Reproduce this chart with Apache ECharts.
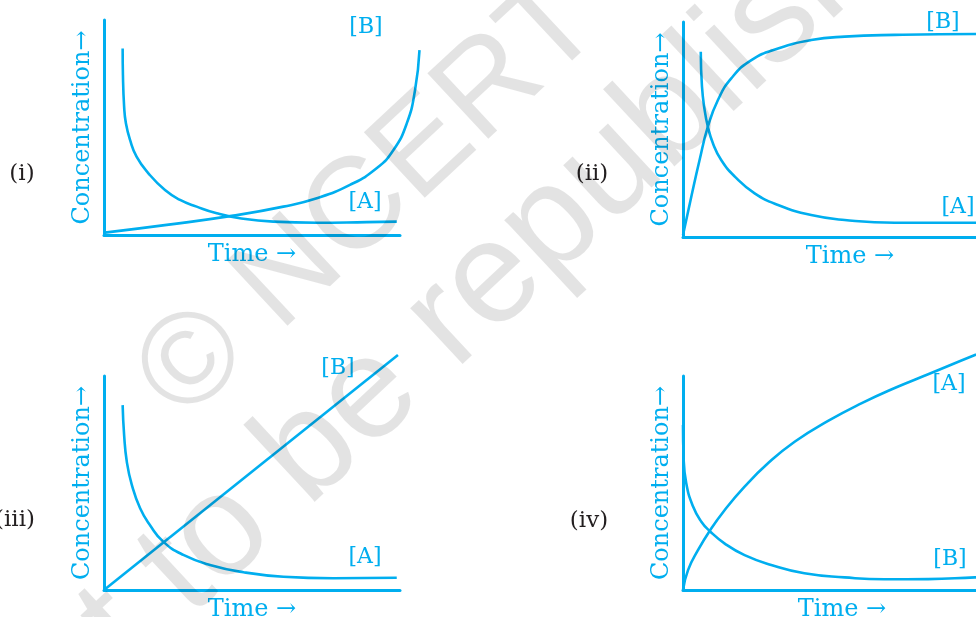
<!DOCTYPE html>
<html>
<head>
<meta charset="utf-8">
<script src="https://cdn.jsdelivr.net/npm/echarts@6/dist/echarts.min.js"></script>
<style>
  html, body { margin: 0; padding: 0; background: #fff; }
  #chart { width: 976px; height: 617px; }
</style>
</head>
<body>
<div id="chart"></div>
<script>
// [x, y] points, time 0..10, concentration 0..10
const p1A = [[0.63, 8.68], [0.64, 7.44], [0.68, 5.97], [0.74, 5.20], [0.88, 4.42], [1.10, 3.64],
  [1.50, 2.87], [2.06, 2.09], [2.57, 1.63], [3.13, 1.32], [3.81, 1.01], [4.59, 0.78],
  [5.72, 0.62], [7.19, 0.57], [8.88, 0.60], [9.89, 0.62]];
const p1B = [[0.03, 0.11], [2.12, 0.47], [4.37, 0.90], [6.06, 1.32], [7.19, 1.71], [8.31, 2.33],
  [9.21, 3.10], [9.78, 3.95], [10.23, 5.19], [10.51, 6.74], [10.66, 8.60]];

const p2A = [[0.60, 8.62], [0.64, 7.01], [0.73, 5.91], [0.84, 5.13], [1.01, 4.36], [1.29, 3.58],
  [1.75, 2.81], [2.42, 2.03], [3.21, 1.49], [4.33, 1.02], [5.46, 0.79], [7.15, 0.66],
  [9.90, 0.66], [10.7, 0.66]];
const p2B = [[0, 0.09], [0.28, 1.87], [0.56, 3.58], [0.84, 5.13], [1.18, 6.37], [1.63, 7.38],
  [2.31, 8.23], [3.21, 8.77], [4.33, 9.16], [5.46, 9.32], [7.15, 9.40], [9.90, 9.44], [10.7, 9.44]];

const p3A = [[0.63, 8.64], [0.68, 7.24], [0.77, 6.00], [0.94, 4.91], [1.22, 3.82], [1.55, 3.04],
  [2.00, 2.26], [2.68, 1.64], [3.58, 1.17], [4.71, 0.83], [6.06, 0.62], [7.74, 0.55], [9.89, 0.57]];
const p3B = [[0, 0], [9.93, 10.98]];

const p4A = [[0, 0], [0.17, 0.93], [0.51, 1.87], [0.90, 2.76], [1.41, 3.74], [2.08, 4.83],
  [2.87, 5.92], [3.77, 6.93], [4.90, 7.90], [6.02, 8.72], [7.15, 9.44], [8.28, 10.08],
  [9.86, 10.98], [10.7, 11.43]];
const p4B = [[0, 7.71], [0.02, 6.23], [0.11, 4.99], [0.34, 3.90], [0.62, 3.19], [0.90, 2.76],
  [1.41, 2.17], [2.08, 1.63], [2.98, 1.17], [4.10, 0.78], [5.46, 0.59], [6.80, 0.50],
  [8.28, 0.51], [9.86, 0.59], [10.7, 0.62]];

const panelNames = ['(i)', '(ii)', '(iii)', '(iv)'];
// last entry: wider hidden axis so [B] in (i) can run past the end of the time axis
const xMax = [10, 11.28, 10, 10.74, 11.15];

const cyan = '#00aeef';
const serif = 'DejaVu Serif';

const chart = echarts.init(document.getElementById('chart'));

const grids = [
  { left: 104, top: 20, width: 296, height: 215 },
  { left: 683, top: 22, width: 334, height: 215 },
  { left: 104, top: 376, width: 296, height: 214 },
  { left: 683, top: 376, width: 318, height: 214 },
  { left: 104, top: 20, width: 330, height: 215 }
].map(g => Object.assign(g, { outerBoundsMode: 'none', containLabel: false }));

const xAxes = grids.map((g, i) => ({
  type: 'value', gridIndex: i, min: 0, max: xMax[i], show: i < 4,
  axisLine: { show: true, lineStyle: { color: cyan, width: 3 } },
  axisTick: { show: false }, axisLabel: { show: false }, splitLine: { show: false },
  name: i < 4 ? 'Time →' : '', nameLocation: 'middle', nameGap: 8,
  nameTextStyle: { color: cyan, fontFamily: serif, fontSize: 24 }
}));

const yAxes = grids.map((g, i) => ({
  type: 'value', gridIndex: i, min: 0, max: 10, show: i < 4,
  axisLine: { show: true, lineStyle: { color: cyan, width: 3 } },
  axisTick: { show: false }, axisLabel: { show: false }, splitLine: { show: false },
  name: i < 4 ? 'Concentration→' : '', nameLocation: 'middle', nameGap: 9,
  nameTextStyle: { color: cyan, fontFamily: serif, fontSize: 24 }
}));

function curve(data, i) {
  return {
    type: 'line', xAxisIndex: i, yAxisIndex: i, data: data,
    showSymbol: false, smooth: 0.5, clip: false, silent: true,
    lineStyle: { color: cyan, width: 2.6 }
  };
}

function label(text, x, y, color, size) {
  return {
    type: 'text', x: x, y: y, z: 50,
    style: { text: text, fill: color, font: (size || 22) + 'px "DejaVu Serif"', align: 'center', verticalAlign: 'middle' }
  };
}

// watermark, drawn over the curves like in the scan
const wmRot = 43 * Math.PI / 180;
function watermark(text, x, y, size) {
  return {
    type: 'text', x: x, y: y, rotation: wmRot, z: 100, silent: true,
    style: { text: text, fill: 'rgba(0,0,0,0.11)', font: size + 'px "Liberation Sans"', align: 'center', verticalAlign: 'middle' }
  };
}

chart.setOption({
  animation: false,
  grid: grids,
  xAxis: xAxes,
  yAxis: yAxes,
  series: [
    curve(p1A, 0), curve(p1B, 4),
    curve(p2A, 1), curve(p2B, 1),
    curve(p3A, 2), curve(p3B, 2),
    curve(p4A, 3), curve(p4B, 3)
  ],
  graphic: [
    label(panelNames[0], 22, 174, '#231f20', 23),
    label(panelNames[1], 592, 174, '#231f20', 23),
    label(panelNames[2], 15, 520, '#231f20', 23),
    label(panelNames[3], 589, 521, '#231f20', 23),
    label('[B]', 366, 27, cyan), label('[A]', 365, 202, cyan),
    label('[B]', 943, 22, cyan), label('[A]', 958, 207, cyan),
    label('[B]', 338, 368, cyan), label('[A]', 365, 557, cyan),
    label('[A]', 949, 384, cyan), label('[B]', 950, 559, cyan),
    watermark('© NCERT', 370, 200, 130),
    watermark('not to be republished', 481, 292, 145)
  ]
});
</script>
</body>
</html>
